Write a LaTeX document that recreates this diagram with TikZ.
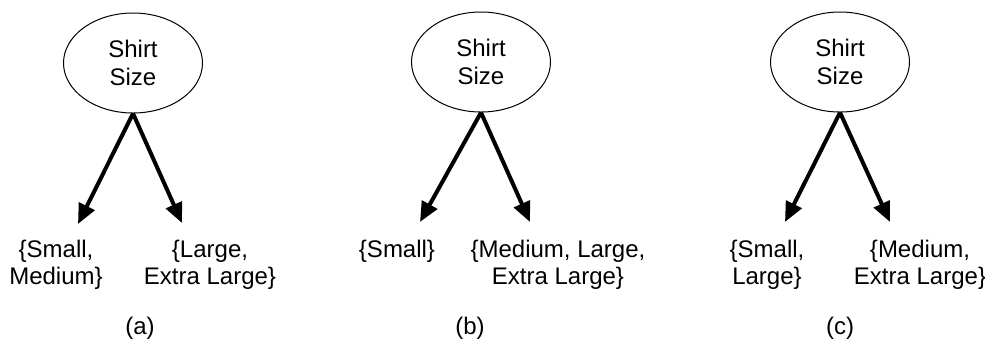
\documentclass[tikz,border=0pt]{standalone}
\usepackage{fontspec}
\setmainfont{Liberation Sans}
\usetikzlibrary{arrows.meta,shapes.geometric}
\tikzset{
  attr/.style={draw,ellipse,line width=.5pt,minimum width=69.5pt,minimum height=50pt,inner sep=0pt,align=center,font=\fontsize{12}{14}\selectfont},
  subset/.style={anchor=north,inner sep=0pt,align=center,font=\fontsize{12}{13.5}\selectfont},
  branch/.style={-{Triangle[length=10pt,width=8.5pt]},line width=2pt},
  caption/.style={inner sep=0pt,font=\fontsize{12}{14}\selectfont}
}
\begin{document}
\begin{tikzpicture}[x=.5pt,y=-.5pt]
\useasboundingbox(0,0)rectangle(985,345);
% (a)
\node[attr](sa)at(133,63){Shirt\\Size};
\coordinate(ta1)at(78,224);
\coordinate(ta2)at(182,223);
\draw[branch](sa.south)--(ta1);
\draw[branch](sa.south)--(ta2);
\node[subset](la1)at(56,240){\{Small,\\Medium\}};
\node[subset](la2)at(210,240){\{Large,\\Extra Large\}};
\node[caption](ca)at(140,328){(a)};
% (b)
\node[attr](sb)at(481,62){Shirt\\Size};
\coordinate(tb1)at(420,222);
\coordinate(tb2)at(530,222);
\draw[branch](sb.south)--(tb1);
\draw[branch](sb.south)--(tb2);
\node[subset](lb1)at(397,240){\{Small\}};
\node[subset](lb2)at(558,240){\{Medium, Large,\\Extra Large\}};
\node[caption](cb)at(470,328){(b)};
% (c)
\node[attr](sc)at(840,62){Shirt\\Size};
\coordinate(tc1)at(785,222);
\coordinate(tc2)at(890,222);
\draw[branch](sc.south)--(tc1);
\draw[branch](sc.south)--(tc2);
\node[subset](lc1)at(767,240){\{Small,\\Large\}};
\node[subset](lc2)at(920,240){\{Medium,\\Extra Large\}};
\node[caption](cc)at(840,328){(c)};
\end{tikzpicture}
\end{document}
